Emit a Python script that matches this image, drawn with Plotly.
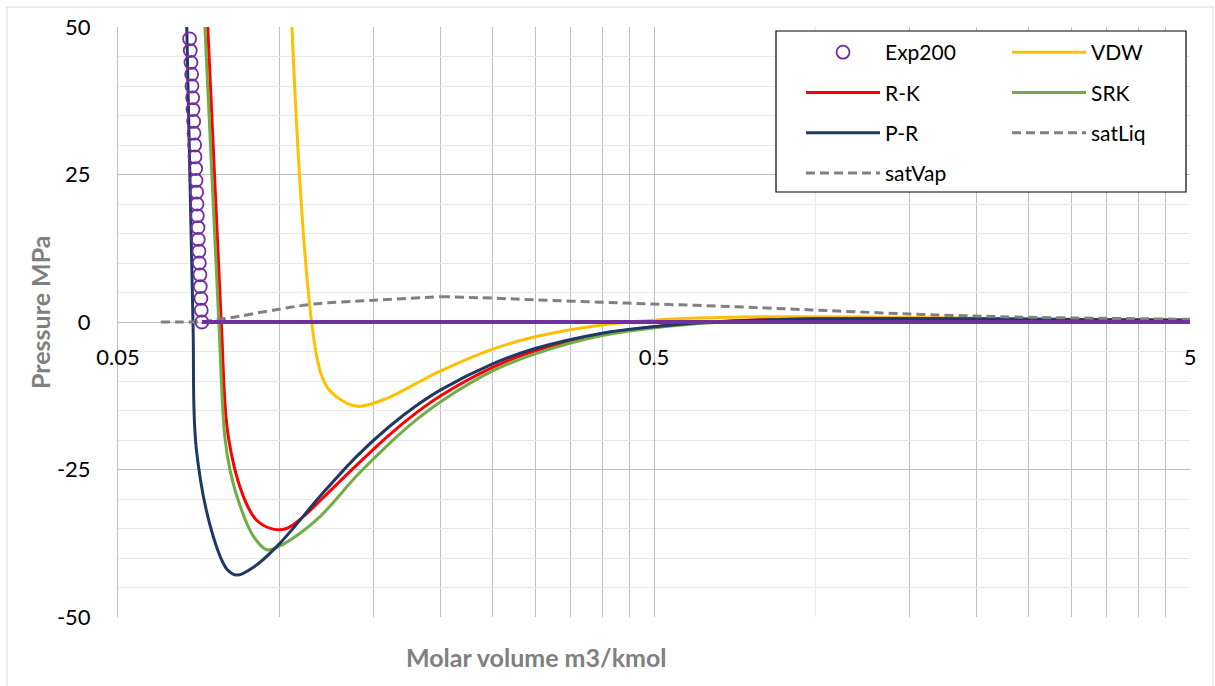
import plotly.graph_objects as go

# ---- data -----------------------------------------------------------------
# Cubic equations of state at 200 K: molar volume (m3/kmol) vs pressure (MPa)
vdw_v = [0.1050, 0.1200, 0.1280, 0.14, 0.16, 0.18, 0.20, 0.25, 0.30, 0.40, 0.50,
         0.60, 0.70, 0.80, 1.0, 1.5, 2.0, 3.0, 5.0]
vdw_p = [55.0, -9.2, -12.7, -14.3, -12.8, -10.4, -8.3, -4.6, -2.5, -0.5, 0.3,
         0.66, 0.81, 0.88, 0.89, 0.76, 0.64, 0.46, 0.30]

rk_v = [0.0731, 0.0779, 0.0803, 0.0857, 0.0907, 0.0974, 0.1031, 0.1108, 0.12, 0.14,
        0.16, 0.18, 0.20, 0.25, 0.30, 0.40, 0.50, 0.60, 0.70, 0.80, 1.0, 1.5,
        2.0, 3.0, 5.0]
rk_p = [55.0, 0.0, -19.4, -29.6, -33.6, -35.1, -35.0, -33.0, -30.0, -24.1,
        -19.2, -15.4, -12.5, -7.7, -4.9, -2.1, -0.8, -0.16, 0.18, 0.38, 0.56, 0.61,
        0.54, 0.42, 0.29]

srk_v = [0.0722, 0.0771, 0.0791, 0.0809, 0.0845, 0.0894, 0.0947, 0.1000, 0.1093,
         0.1191, 0.14, 0.16, 0.18, 0.20, 0.25, 0.30, 0.40, 0.50, 0.60, 0.70, 0.80,
         1.0, 1.5, 2.0, 3.0, 5.0]
srk_p = [55.0, 0.0, -19.4, -25.1, -31.2, -36.3, -38.6, -38.0, -35.8,
         -33.0, -25.9, -20.7, -16.6, -13.5, -8.3, -5.4, -2.3, -1.0, -0.29, 0.09, 0.31,
         0.51, 0.58, 0.53, 0.42, 0.28]

pr_v = [0.0670, 0.0690, 0.0700, 0.0753, 0.0800, 0.0833, 0.0900, 0.1000, 0.1200,
        0.14, 0.16, 0.18, 0.20, 0.25, 0.30, 0.40, 0.50, 0.60, 0.70, 0.80, 1.0, 1.5,
        2.0, 3.0, 5.0]
pr_p = [55.0, 0.0, -21.5, -36.4, -42.0, -42.9, -41.4, -37.6, -29.2,
        -22.6, -17.8, -14.2, -11.5, -7.1, -4.5, -1.9, -0.8, -0.17, 0.17, 0.36, 0.53, 0.59,
        0.53, 0.42, 0.28]

# Experimental compressed-liquid isotherm (200 K)
exp_v = [0.0717, 0.0715, 0.0714, 0.0712, 0.0711, 0.0709, 0.0708, 0.0706, 0.0705,
         0.0703, 0.0702, 0.0701, 0.0699, 0.0698, 0.0696, 0.0695, 0.0693, 0.0692,
         0.0690, 0.0689, 0.0687, 0.0686, 0.0684, 0.0682, 0.0680]
exp_p = [0, 2, 4, 6, 8, 10, 12, 14, 16, 18, 20, 22, 24, 26, 28, 30, 32, 34, 36,
         38, 40, 42, 44, 46, 48]
# vapour branch of the experimental isotherm (P ~ 0 on this scale)
exp_line_v = [0.0717, 5.0]
exp_line_p = [0.0, 0.0]

# Saturation dome
sat_liq_v = [0.0601, 0.0650, 0.0717, 0.0780, 0.0845, 0.0973, 0.1160, 0.1500, 0.2000]
sat_liq_p = [0.0, 0.0, 0.05, 0.5, 1.0, 2.0, 3.05, 3.7, 4.3]
sat_vap_v = [0.20, 0.25, 0.30, 0.40, 0.50, 0.70, 0.90, 1.10, 1.50, 2.00, 2.50, 3.50, 5.00]
sat_vap_p = [4.3, 4.05, 3.75, 3.35, 3.05, 2.6, 2.2, 1.86, 1.36, 1.0, 0.8, 0.62, 0.45]

x_ticks = [0.05, 0.5, 5]
x_tick_text = ["0.05", "0.5", "5"]
x_minor = [0.10, 0.15, 0.20, 0.25, 0.30, 0.35, 0.40, 0.45,
           1.5, 2.0, 2.5, 3.0, 3.5, 4.0, 4.5]
y_ticks = [-50, -25, 0, 25, 50]
y_tick_text = ["-50", "-25", "0", "25", "50"]

# ---- styling --------------------------------------------------------------
FONT = "Lato"
W, H = 1215, 686
L, R, T, B = 118, 25, 27, 69
PW, PH = W - L - R, H - T - B


def px_x(px):
    return (px - L) / PW


def px_y(py):
    return (H - B - py) / PH


fig = go.Figure()

curves = [
    ("VDW", vdw_v, vdw_p, "#FFC000", "legend2", 1),
    ("R-K", rk_v, rk_p, "#FF0000", "legend", 2),
    ("SRK", srk_v, srk_p, "#70AD47", "legend2", 2),
    ("P-R", pr_v, pr_p, "#1F3864", "legend", 3),
]
for name, v, p, color, leg, rank in curves:
    fig.add_trace(go.Scatter(
        x=v, y=p, name=name, mode="lines",
        line=dict(color=color, width=3, shape="spline", smoothing=1),
        legend=leg, legendrank=rank, legendgroup=name,
    ))

fig.add_trace(go.Scatter(
    x=sat_liq_v, y=sat_liq_p, name="satLiq", mode="lines",
    line=dict(color="#808080", width=3, dash="9px,5px", shape="spline"),
    legend="legend2", legendrank=3, legendgroup="satLiq",
))
fig.add_trace(go.Scatter(
    x=sat_vap_v, y=sat_vap_p, name="satVap", mode="lines",
    line=dict(color="#808080", width=3, dash="9px,5px", shape="spline"),
    legend="legend", legendrank=4, legendgroup="satVap",
))
fig.add_trace(go.Scatter(
    x=exp_line_v, y=exp_line_p, mode="lines", showlegend=False,
    line=dict(color="#7030A0", width=4),
))
fig.add_trace(go.Scatter(
    x=exp_v, y=exp_p, name="Exp200", mode="markers",
    marker=dict(symbol="circle-open", size=13, color="#7030A0",
                line=dict(width=1.8)),
    legend="legend", legendrank=1, legendgroup="Exp200",
))

# light 1.0 gridline
fig.add_shape(type="line", xref="x", yref="paper", x0=1.0, x1=1.0, y0=0, y1=1,
              line=dict(color="#e6e6e6", width=1), layer="below")
# legend frame
fig.add_shape(type="rect", xref="paper", yref="paper",
              x0=px_x(776), x1=px_x(1186), y0=px_y(192), y1=px_y(31),
              line=dict(color="#000000", width=1.2), fillcolor="white", layer="above")
# chart border
fig.add_shape(type="rect", xref="paper", yref="paper",
              x0=px_x(7), x1=px_x(1213), y0=px_y(690), y1=px_y(7),
              line=dict(color="#d9d9d9", width=1), layer="below")

legend_common = dict(
    font=dict(family=FONT, size=21, color="#000000"),
    bgcolor="rgba(0,0,0,0)", borderwidth=0,
    xanchor="left", yanchor="top", itemwidth=74,
    tracegroupgap=10, itemclick=False,
)

fig.update_layout(
    width=W, height=H,
    margin=dict(l=L, r=R, t=T, b=B),
    paper_bgcolor="white", plot_bgcolor="white",
    font=dict(family=FONT, size=22, color="#000000"),
    showlegend=True,
    legend=dict(x=px_x(801), y=px_y(32), **legend_common),
    legend2=dict(x=px_x(1007), y=px_y(32), **legend_common),
    xaxis=dict(
        type="log", range=[-1.30103, 0.69897],
        anchor="free", position=0.5,
        tickvals=x_ticks, ticktext=x_tick_text,
        showgrid=True, gridcolor="#bfbfbf", gridwidth=1,
        minor=dict(tickvals=x_minor, showgrid=True, gridcolor="#bfbfbf", gridwidth=1),
        showline=False, zeroline=False, ticks="",
        ticklabelstandoff=20,
        tickfont=dict(family=FONT, size=22, color="#000000"),
    ),
    yaxis=dict(
        range=[-50, 50], tickvals=y_ticks, ticktext=y_tick_text,
        showgrid=True, gridcolor="#bfbfbf", gridwidth=1,
        minor=dict(dtick=5, showgrid=True, gridcolor="#e8e8e8", gridwidth=1),
        showline=True, linecolor="#bfbfbf", linewidth=1,
        zeroline=False, ticks="",
        ticklabelstandoff=22,
        tickfont=dict(family=FONT, size=22, color="#000000"),
    ),
    annotations=[
        dict(text="<b>Molar volume m3/kmol</b>", xref="paper", yref="paper",
             x=px_x(536), y=px_y(657), xanchor="center", yanchor="middle",
             showarrow=False,
             font=dict(family=FONT, size=25, color="#808080")),
        dict(text="<b>Pressure MPa</b>", xref="paper", yref="paper",
             x=px_x(40), y=px_y(313), xanchor="center", yanchor="middle",
             showarrow=False, textangle=-90,
             font=dict(family=FONT, size=25, color="#808080")),
    ],
)

fig.write_html("out.html")
